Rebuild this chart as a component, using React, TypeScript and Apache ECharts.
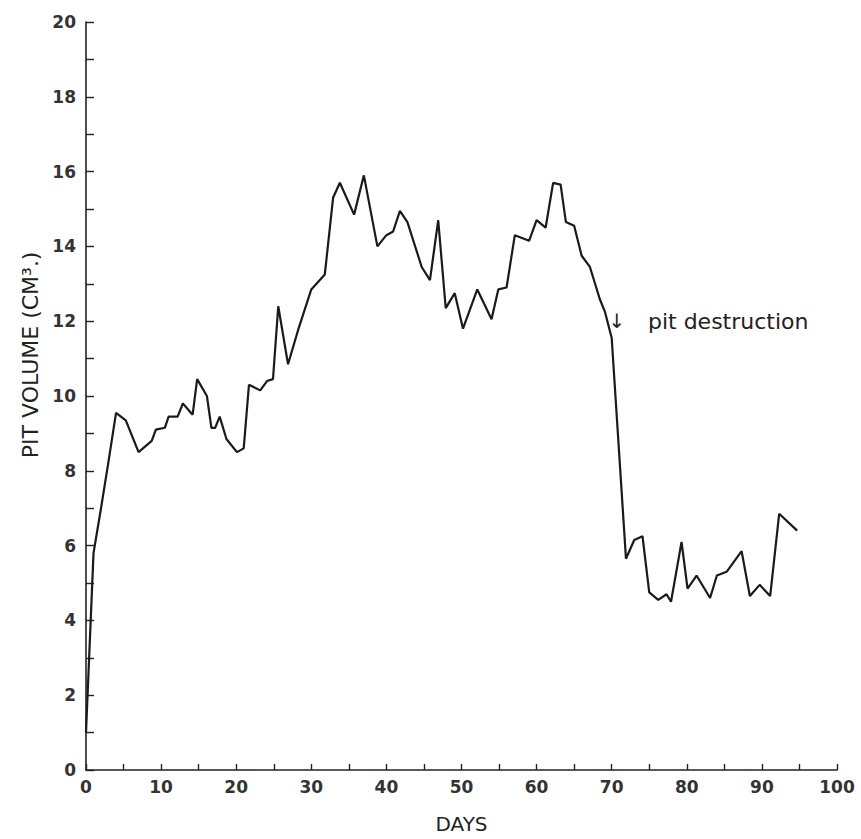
import React, { useEffect, useRef } from "react";
import * as echarts from "echarts";

const days = [
  0, 1, 2, 3, 4.0, 5.3, 7.0, 8.75, 9.3, 10.5,
  11.0, 12.2, 12.9, 14.2, 14.8, 16.1, 16.7, 17.2, 17.8, 18.7,
  20.1, 21.0, 21.7, 23.2, 24.1, 24.9, 25.6, 26.9, 28.3, 30.0,
  31.8, 32.9, 33.8, 35.7, 37.0, 38.8, 40.0, 40.9, 41.8, 42.8,
  44.7, 45.8, 46.9, 47.9, 49.1, 50.2, 52.1, 54.0, 54.9, 56.0,
  57.1, 59.0, 60.0, 61.2, 62.2, 63.2, 63.9, 65.0, 66.0, 67.1,
  68.4, 69.1, 70.0, 71.9, 73.0, 74.1, 75.0, 76.2, 77.3, 77.9,
  79.3, 80.1, 81.3, 83.1, 84.0, 85.3, 87.3, 88.4, 89.7, 91.1,
  92.3, 94.7,
];
const pitVolume = [
  1.0, 5.8, 7.0, 8.25, 9.55, 9.35, 8.5, 8.8, 9.1, 9.15,
  9.45, 9.45, 9.8, 9.5, 10.45, 10.0, 9.15, 9.15, 9.45, 8.85,
  8.5, 8.6, 10.3, 10.15, 10.4, 10.45, 12.4, 10.85, 11.8, 12.85,
  13.25, 15.3, 15.7, 14.85, 15.9, 14.0, 14.3, 14.4, 14.95, 14.65,
  13.45, 13.1, 14.7, 12.35, 12.75, 11.8, 12.85, 12.05, 12.85, 12.9,
  14.3, 14.15, 14.7, 14.5, 15.7, 15.65, 14.65, 14.55, 13.75, 13.45,
  12.6, 12.25, 11.55, 5.65, 6.15, 6.25, 4.75, 4.55, 4.7, 4.5,
  6.1, 4.85, 5.2, 4.6, 5.2, 5.3, 5.85, 4.65, 4.95, 4.65,
  6.85, 6.4,
];

// Axis ranges and tick steps
const xMin = 0, xMax = 100, xTickStep = 5, xLabelStep = 10;
const yMin = 0, yMax = 20, yTickStep = 1, yLabelStep = 2;

// Annotation
const destructionDay = 70.7;
const destructionLevel = 12.0;
const annotationText = "pit destruction";
const yTitle = "PIT VOLUME (CM\u00B3.)";
const yTitleCenterValue = 11.1;
const xTitle = "DAYS";

const FONT = "'DejaVu Sans', 'Liberation Sans', sans-serif";
const INK = "#222";

export default function App() {
  const ref = useRef<HTMLDivElement>(null);

  useEffect(() => {
    if (!ref.current) return;
    const chart = echarts.init(ref.current, null, { renderer: "svg" });
    const data = days.map((d, i) => [d, pitVolume[i]]);

    chart.setOption({
      animation: false,
      backgroundColor: "#ffffff",
      grid: { left: 86, right: 24, top: 22, bottom: 67, containLabel: false },
      xAxis: {
        type: "value",
        min: xMin,
        max: xMax,
        interval: xTickStep,
        name: xTitle,
        nameLocation: "middle",
        nameGap: 44,
        nameTextStyle: { fontFamily: FONT, fontSize: 20, color: INK },
        axisLine: { show: true, lineStyle: { color: INK, width: 1.6 } },
        axisTick: { show: true, inside: true, length: 6, lineStyle: { color: INK, width: 1.4 } },
        axisLabel: {
          fontFamily: FONT,
          fontSize: 17,
          fontWeight: "bold",
          color: "#333",
          margin: 8,
          formatter: (v: number) => (v % xLabelStep === 0 ? String(v) : ""),
        },
        splitLine: { show: false },
      },
      yAxis: {
        type: "value",
        min: yMin,
        max: yMax,
        interval: yTickStep,
        axisLine: { show: true, lineStyle: { color: INK, width: 1.6 } },
        axisTick: { show: true, inside: true, length: 8, lineStyle: { color: INK, width: 1.4 } },
        axisLabel: {
          fontFamily: FONT,
          fontSize: 17,
          fontWeight: "bold",
          color: "#333",
          margin: 10,
          formatter: (v: number) => (v % yLabelStep === 0 ? String(v) : ""),
        },
        splitLine: { show: false },
      },
      series: [
        {
          type: "line",
          data,
          showSymbol: false,
          symbol: "none",
          lineStyle: { color: "#1a1a1a", width: 2.2 },
          z: 3,
        },
      ],
    });

    const p = chart.convertToPixel({ gridIndex: 0 }, [destructionDay, destructionLevel]) as number[];
    const yMid = chart.convertToPixel({ gridIndex: 0 }, [0, yTitleCenterValue]) as number[];
    chart.setOption({
      graphic: [
        {
          type: "text",
          x: 30,
          y: yMid[1],
          rotation: Math.PI / 2,
          style: {
            text: yTitle,
            fontFamily: FONT,
            fontSize: 22,
            fill: INK,
            align: "center",
            verticalAlign: "middle",
            textAlign: "center",
            textVerticalAlign: "middle",
          },
        },
        {
          type: "text",
          x: p[0],
          y: p[1],
          style: {
            text: "\u2193",
            fontFamily: FONT,
            fontSize: 20,
            fill: INK,
            align: "center",
            verticalAlign: "middle",
            textAlign: "center",
            textVerticalAlign: "middle",
          },
        },
        {
          type: "text",
          x: p[0] + 31,
          y: p[1],
          style: {
            text: annotationText,
            fontFamily: FONT,
            fontSize: 22,
            fill: INK,
            align: "left",
            verticalAlign: "middle",
            textAlign: "left",
            textVerticalAlign: "middle",
          },
        },
      ],
    });

    return () => chart.dispose();
  }, []);

  return (
    <div
      ref={ref}
      style={{ position: "absolute", left: 0, top: 0, width: 861, height: 839 }}
    />
  );
}
